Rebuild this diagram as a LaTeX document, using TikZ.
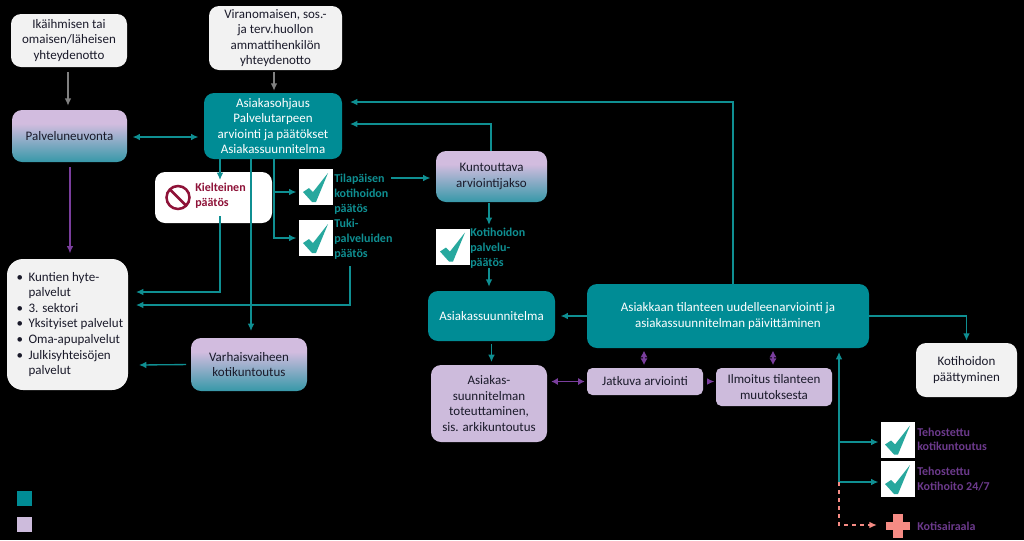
\documentclass[tikz,border=0pt]{standalone}
\usepackage{fontspec}
\setmainfont{Carlito}
\usetikzlibrary{arrows.meta,calc}
\definecolor{tealb}{HTML}{008C95}
\definecolor{tealt}{HTML}{0F8F92}
\definecolor{lila}{HTML}{D2BCDF}
\definecolor{lilb}{HTML}{CDBBDC}
\definecolor{offw}{HTML}{F2F2F2}
\definecolor{purp}{HTML}{7A3E9D}
\definecolor{purt}{HTML}{6C3A8C}
\definecolor{wine}{HTML}{8E1238}
\definecolor{chk}{HTML}{27A89E}
\definecolor{salm}{HTML}{F58B84}
\definecolor{ink}{HTML}{1A1A2A}
\pgfdeclareverticalshading{lilateal}{100bp}{color(0bp)=(tealb); color(12bp)=(tealb); color(62bp)=(lila); color(100bp)=(lila)}
\tikzset{
  bx/.style={rounded corners=7.5pt,inner sep=0pt,align=center,font=\fontsize{9.75pt}{11.7pt}\selectfont,text=ink},
  whitebox/.style={bx,fill=offw},
  tealbox/.style={bx,fill=tealb,text=white},
  lilabox/.style={bx,fill=lilb},
  gradbox/.style={bx,shading=lilateal},
  lab/.style={anchor=north west,inner sep=0pt,align=left,font=\fontsize{9pt}{11pt}\selectfont\bfseries},
  tl/.style={draw=tealt,line width=1pt,-{Latex[length=5.5pt,width=5pt]}},
  tlb/.style={draw=tealt,line width=1pt,{Latex[length=5.5pt,width=5pt]}-{Latex[length=5.5pt,width=5pt]}},
  gl/.style={draw=gray,line width=1pt,-{Latex[length=5.5pt,width=5pt]}},
  pl/.style={draw=purp,line width=1pt,-{Latex[length=5.5pt,width=5pt]}},
  plb/.style={draw=purp,line width=1pt,{Latex[length=5pt,width=5.5pt]}-{Latex[length=5pt,width=5.5pt]}},
  dl/.style={draw=salm,line width=.9pt,dashed,-{Latex[length=5.5pt,width=5pt]}},
}
\newcommand\boxat[7]{\node[#6,minimum width={(#4-#2)*0.75pt},minimum height={(#5-#3)*0.75pt}] (#1) at ({(#2+#4)/2},{(#3+#5)/2}) {#7};}
\newcommand\checkat[3]{%
  \node[fill=white,inner sep=0pt,minimum width=25pt,minimum height=27pt] (#1) at (#2,#3) {};
  \fill[chk] ($(#1.center)+(-13,5)$) -- ($(#1.center)+(-7,1)$) -- ($(#1.center)+(-3,5)$) -- ($(#1.center)+(12,-14)$) -- ($(#1.center)+(0,15)$) -- ($(#1.center)+(-4,15)$) -- cycle;}
\begin{document}
\begin{tikzpicture}[x=0.75pt,y=-0.75pt]
\useasboundingbox (0,0) rectangle (1024,540);
\fill[black] (0,0) rectangle (1024,540);
\boxat{ika}{11}{14}{127}{67}{whitebox}{Ikäihmisen tai\\omaisen/läheisen\\yhteydenotto}
\boxat{vir}{209}{6}{342}{70}{whitebox}{Viranomaisen, sos.-\\ja terv.huollon\\ammattihenkilön\\yhteydenotto}
\boxat{pal}{12}{110}{127}{162}{gradbox}{Palveluneuvonta}
\boxat{asi}{204}{93}{342}{159}{tealbox}{Asiakasohjaus\\Palvelutarpeen\\arviointi ja päätökset\\Asiakassuunnitelma}
\boxat{kie}{155}{172}{272}{223}{bx,fill=white}{}
\node[lab,text=wine] (kiet) at (195,183) {Kielteinen\\päätös};
\draw[wine,line width=1.9pt] (178,197.5) circle (11.5);
\draw[wine,line width=1.9pt] (170,189.5) -- (186,205.5);
\node[whitebox,rounded corners=12pt,minimum width={121*0.75pt},minimum height={131*0.75pt},align=left] (kun) at (67.5,324.5)
 {\hspace*{3.5pt}\makebox[9pt][l]{\textbullet}Kuntien hyte-\\\hspace*{12.5pt}palvelut\\\hspace*{3.5pt}\makebox[9pt][l]{\textbullet}3. sektori\\\hspace*{3.5pt}\makebox[9pt][l]{\textbullet}Yksityiset palvelut\\\hspace*{3.5pt}\makebox[9pt][l]{\textbullet}Oma-apupalvelut\\\hspace*{3.5pt}\makebox[9pt][l]{\textbullet}Julkisyhteisöjen\\\hspace*{12.5pt}palvelut};
\boxat{var}{191}{338}{307}{391}{gradbox}{Varhaisvaiheen\\kotikuntoutus}
\boxat{kto}{436}{151}{547}{202}{gradbox}{Kuntouttava\\arviointijakso}
\boxat{asu}{428}{291}{555}{341}{tealbox}{Asiakassuunnitelma}
\boxat{uud}{587}{284}{869}{348}{tealbox}{Asiakkaan tilanteen uudelleenarviointi ja\\asiakassuunnitelman päivittäminen}
\boxat{tot}{431}{365}{547}{442}{lilabox}{Asiakas-\\suunnitelman\\toteuttaminen,\\sis. arkikuntoutus}
\boxat{jat}{587}{368}{703}{395}{lilabox,rounded corners=4pt}{Jatkuva arviointi}
\boxat{ilm}{716}{368}{832}{406}{lilabox,rounded corners=4pt}{Ilmoitus tilanteen\\muutoksesta}
\boxat{paa}{916}{343}{1017}{397}{whitebox}{Kotihoidon\\päättyminen}
\checkat{c1}{316}{187}
\checkat{c2}{316}{238}
\checkat{c3}{453}{246.5}
\checkat{c4}{898}{439.5}
\checkat{c5}{898}{479}
\node[lab,text=tealt] (l1) at (334,174) {Tilapäisen\\kotihoidon\\päätös};
\node[lab,text=tealt] (l2) at (334,219) {Tuki-\\palveluiden\\päätös};
\node[lab,text=tealt] (l3) at (470,228) {Kotihoidon\\palvelu-\\päätös};
\node[lab,text=purt] (l4) at (917,427.5) {Tehostettu\\kotikuntoutus};
\node[lab,text=purt] (l5) at (917,467) {Tehostettu\\Kotihoito 24/7};
\node[lab,text=purt] (l6) at (917,522) {Kotisairaala};
\node[fill=salm,minimum width=18pt,minimum height=6.5pt,inner sep=0pt] (rc) at (898,526) {};
\node[fill=salm,minimum width=7pt,minimum height=18.5pt,inner sep=0pt] at (rc.center) {};
\node[fill=tealb,minimum size=11.25pt,inner sep=0pt] (lg1) at (24.5,498.5) {};
\node[fill=lilb,minimum size=11.25pt,inner sep=0pt] (lg2) at (24.5,524.5) {};
% junctions
\coordinate (i68) at (68,67);
\coordinate (a220) at (220,159);
\coordinate (a251) at (251,159);
\coordinate (a274) at (274,159);
\coordinate (v274) at (274,70);
\coordinate (e1) at (274,192);
\coordinate (k220) at (220,216);
\coordinate (kl1) at (136,292);
\coordinate (kl2) at (136,305);
\coordinate (t350) at (350,266);
\coordinate (r1) at (350,102);
\coordinate (r2) at (350,124);
\coordinate (u733) at (733,284);
\coordinate (k491) at (491,151);
\coordinate (l1e) at (391,178);
\coordinate (v1) at (839,482);
\coordinate (v2) at (839,352);
\coordinate (v3) at (839,442);
\coordinate (u967) at (869,316);
\coordinate (uj) at (644,348);
\coordinate (ui) at (773,348);
\coordinate (p70) at (70,162);
\coordinate (c3x) at (489,202);
\coordinate (c3y) at (489,268);
\coordinate (vk) at (139,365);
% connectors
\draw[gl,shorten <=4pt,shorten >=3pt] (i68) -- (i68 |- pal.north);
\draw[gl,shorten <=1.5pt,shorten >=1.5pt] (v274) -- (v274 |- asi.north);
\draw[tlb,shorten <=4pt,shorten >=4pt] (pal.east |- 0,137) -- (asi.west |- 0,137);
\draw[pl,shorten <=4pt,shorten >=4pt] (p70) -- (p70 |- kun.north);
\draw[tl] (a220) -- (220,180);
\draw[tl,shorten >=5pt] (a251) -- (a251 |- var.north);
\draw[tl,shorten >=2pt] (a274) |- (c2.west) ;
\draw[tl,shorten >=2pt] (e1) -- (c1.west |- e1);
\draw[tl] (k220) |- (kl1);
\draw[tl] (t350) |- (kl2);
\draw[tl,shorten >=4pt] (l1e) -- (kto.west |- l1e);
\draw[tl] (k491) |- (r2);
\draw[tl] (u733) |- (r1);
\draw[tl,shorten <=1pt,shorten >=2.5pt] (c3x) -- (c3x |- c3.north);
\draw[tl,shorten >=3pt] (c3y) -- (c3y |- asu.north);
\draw[tl,shorten <=2pt,shorten >=2pt] (asu.south) -- (tot.north -| asu.south);
\draw[tl,shorten >=4pt] (uud.west |- asu) -- (asu.east);
\draw[tl,shorten <=3.5pt] (var.west) -- (vk);
\draw[plb,shorten <=3pt,shorten >=1.5pt] (tot.east |- jat) -- (jat.west);
\draw[pl,shorten <=4.5pt,shorten >=1pt] (jat.east) -- (ilm.west |- jat);
\draw[plb,shorten <=2pt,shorten >=2pt] (uj) -- (jat.north -| uj);
\draw[plb,shorten <=2pt,shorten >=2pt] (ui) -- (ilm.north -| ui);
\draw[tl] (u967) -| ($(paa.north)+(0,-2)$);
\draw[tl] (v1) -- (v2);
\draw[tl,shorten >=2pt] (v3) -- (c4.west |- v3);
\draw[tl,shorten >=2pt] (v1) -- (c5.west |- v1);
\draw[dl] (v1) |- ($(rc.west)+(-9,-1)$);
\end{tikzpicture}
\end{document}
